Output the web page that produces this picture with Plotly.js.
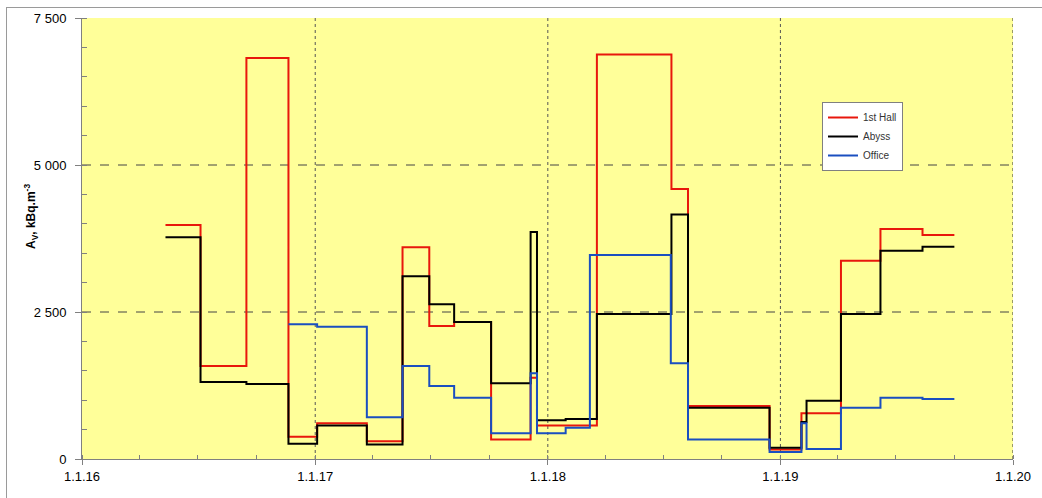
<!DOCTYPE html>
<html>
<head>
<meta charset="utf-8">
<script src="https://cdn.plot.ly/plotly-3.0.1.min.js"></script>
<style>
  html, body { margin: 0; padding: 0; background: #ffffff; }
  #frame { position: absolute; left: 6px; top: 7px; width: 1036px; height: 491px;
           border-top: 1px solid #9a9a9a; border-left: 1px solid #9a9a9a; box-sizing: border-box; }
  #chart { position: absolute; left: 0; top: 0; width: 1042px; height: 498px; }
</style>
</head>
<body>
<div id="frame"></div>
<div id="chart"></div>
<script>
// ---- data ----
const hallDates = ['2016-05-11','2016-07-05','2016-09-15','2016-11-20','2017-01-04','2017-03-23',
  '2017-05-18','2017-06-29','2017-08-07','2017-10-04','2017-12-05','2017-12-15','2018-03-19',
  '2018-07-14','2018-08-09','2018-12-15','2019-02-03','2019-04-06','2019-06-07','2019-08-12','2019-10-01'];
const hallValues = [3980,1580,6820,380,610,300,3600,2260,2330,330,1380,570,6880,4590,900,160,780,3370,3910,3810,3810];

const abyssDates = ['2016-05-11','2016-07-05','2016-09-15','2016-11-20','2017-01-04','2017-03-23',
  '2017-05-18','2017-06-29','2017-08-07','2017-10-04','2017-12-05','2017-12-15','2018-01-29',
  '2018-03-19','2018-07-14','2018-08-09','2018-12-15','2019-02-03','2019-02-11','2019-04-06',
  '2019-06-07','2019-08-12','2019-10-01'];
const abyssValues = [3770,1310,1275,260,570,245,3110,2630,2330,1290,3860,660,680,2465,4160,870,190,630,990,2465,3540,3610,3610];

const officeDates = ['2016-11-20','2017-01-04','2017-03-23','2017-05-18','2017-06-29','2017-08-07',
  '2017-10-04','2017-12-05','2017-12-15','2018-01-29','2018-03-08','2018-07-13','2018-08-09',
  '2018-12-15','2019-02-03','2019-02-11','2019-04-06','2019-06-07','2019-08-12','2019-10-01'];
const officeValues = [2290,2250,710,1580,1240,1040,440,1460,440,530,3470,1630,330,120,610,170,870,1040,1020,1020];

const seriesNames = ['1st Hall','Abyss','Office'];
const xTickVals = ['2016-01-01','2017-01-01','2018-01-01','2019-01-01','2020-01-01'];
const xTickText = ['1.1.16','1.1.17','1.1.18','1.1.19','1.1.20'];
const yTickVals = [0,2500,5000,7500];
const yTickText = ['0','2 500','5 000','7 500'];

const font = 'Liberation Sans, Arial, sans-serif';

const traces = [
  {x: hallDates, y: hallValues, name: seriesNames[0], mode: 'lines', line: {shape: 'hv', color: '#e8170c', width: 2}},
  {x: abyssDates, y: abyssValues, name: seriesNames[1], mode: 'lines', line: {shape: 'hv', color: '#000000', width: 2}},
  {x: officeDates, y: officeValues, name: seriesNames[2], mode: 'lines', line: {shape: 'hv', color: '#1a4fc0', width: 2}}
];

const layout = {
  width: 1042, height: 498,
  margin: {l: 82, r: 29, t: 18, b: 39, pad: 0},
  paper_bgcolor: 'rgba(0,0,0,0)',
  plot_bgcolor: '#ffff99',
  font: {family: font, size: 12, color: '#000'},
  showlegend: true,
  legend: {
    bgcolor: '#ffffff', bordercolor: '#808080', borderwidth: 1,
    font: {family: font, size: 10, color: '#333'},
    tracegroupgap: 0, itemwidth: 30
  },
  xaxis: {
    type: 'date', range: ['2016-01-01','2020-01-01'],
    tickmode: 'array', tickvals: xTickVals, ticktext: xTickText,
    ticks: 'outside', ticklen: 5, tickcolor: '#808080',
    showline: true, linecolor: '#808080', linewidth: 1,
    showgrid: false, zeroline: false,
    tickfont: {family: font, size: 13, color: '#000'},
    minor: {ticks: 'inside', ticklen: 4, tickcolor: '#808080', dtick: 'M3', showgrid: false}
  },
  yaxis: {
    range: [0, 7500],
    tickmode: 'array', tickvals: yTickVals, ticktext: yTickText,
    ticks: 'outside', ticklen: 6, tickcolor: '#808080',
    showline: true, linecolor: '#808080', linewidth: 1,
    showgrid: false, zeroline: false,
    ticklabelstandoff: 6,
    tickfont: {family: font, size: 13, color: '#000'},
    minor: {ticks: 'inside', ticklen: 5, tickcolor: '#808080', dtick: 500, showgrid: false}
  },
  shapes: [
    {type: 'line', xref: 'paper', x0: 0, x1: 1, yref: 'y', y0: 2500, y1: 2500, line: {color: '#444', width: 1, dash: 'dash'}, layer: 'below'},
    {type: 'line', xref: 'paper', x0: 0, x1: 1, yref: 'y', y0: 5000, y1: 5000, line: {color: '#444', width: 1, dash: 'dash'}, layer: 'below'},
    {type: 'line', yref: 'paper', y0: 0, y1: 1, xref: 'x', x0: '2017-01-01', x1: '2017-01-01', line: {color: '#555', width: 1, dash: 'dot'}, layer: 'below'},
    {type: 'line', yref: 'paper', y0: 0, y1: 1, xref: 'x', x0: '2018-01-01', x1: '2018-01-01', line: {color: '#555', width: 1, dash: 'dot'}, layer: 'below'},
    {type: 'line', yref: 'paper', y0: 0, y1: 1, xref: 'x', x0: '2019-01-01', x1: '2019-01-01', line: {color: '#555', width: 1, dash: 'dot'}, layer: 'below'},
    {type: 'line', yref: 'paper', y0: 0, y1: 1, xref: 'x', x0: '2020-01-01', x1: '2020-01-01', line: {color: '#333', width: 1, dash: 'dot'}, layer: 'above'}
  ],
  annotations: [
    {text: '<b>A<sub>V</sub>, kBq.m<sup>-3</sup></b>', textangle: -90, showarrow: false,
     xref: 'paper', yref: 'paper', x: (31 - 82) / 931, y: 1 - (217 - 18) / 441, xanchor: 'center', yanchor: 'middle',
     font: {family: font, size: 12, color: '#000'}}
  ]
};

// legend position given in pixels -> convert to paper coords
const plotW = 1042 - 82 - 29, plotH = 498 - 18 - 39;
layout.legend.x = (822 - 82) / plotW;
layout.legend.y = 1 - (102 - 18) / plotH;
layout.legend.xanchor = 'left';
layout.legend.yanchor = 'top';

Plotly.newPlot('chart', traces, layout, {displayModeBar: false, staticPlot: true});
</script>
</body>
</html>
